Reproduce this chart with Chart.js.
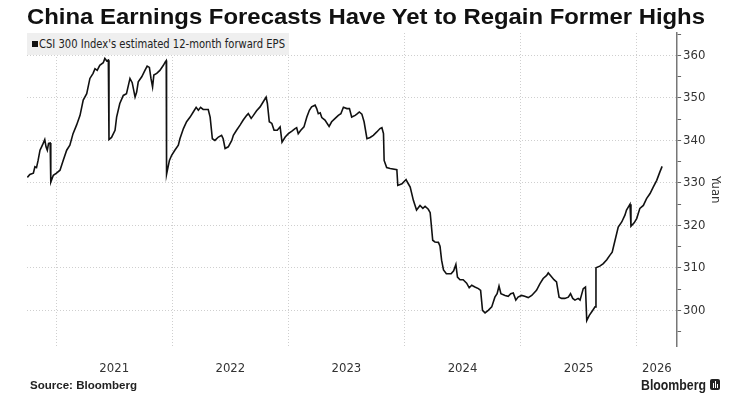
<!DOCTYPE html>
<html><head><meta charset="utf-8">
<script src="https://cdn.jsdelivr.net/npm/chart.js@4.4.1/dist/chart.umd.min.js"></script>
<style>
html,body{margin:0;padding:0;background:#fff;}
#wrap{position:relative;width:743px;height:409px;overflow:hidden;font-family:"Liberation Sans",Arial,sans-serif;}
#c{position:absolute;left:0;top:0;}
#title{position:absolute;left:27px;top:4px;font-weight:bold;font-size:22px;color:#111;white-space:nowrap;transform-origin:0 0;}
#legend{position:absolute;left:27px;top:33px;width:262px;height:22px;background:#efefef;}
#legsq{position:absolute;left:5px;top:8px;width:6px;height:6px;background:#111;}
#legtxt{position:absolute;left:12px;top:0;line-height:22px;font-size:12px;color:#222;white-space:nowrap;transform-origin:0 50%;}
#source{position:absolute;left:30px;top:379px;font-weight:bold;font-size:11px;color:#222;white-space:nowrap;transform-origin:0 0;}
#logo{position:absolute;left:641px;top:376px;font-weight:bold;font-size:15px;color:#222;white-space:nowrap;transform-origin:0 0;}
#icon{position:absolute;left:710px;top:379px;width:10px;height:11px;background:#222;border-radius:2px;}
#icon i{position:absolute;bottom:2px;width:1.5px;background:#fff;}
</style></head>
<body><div id="wrap">
<canvas id="c" width="743" height="409"></canvas>
<div id="title">China Earnings Forecasts Have Yet to Regain Former Highs</div>
<div id="legend"><div id="legsq"></div><div id="legtxt">CSI 300 Index's estimated 12-month forward EPS</div></div>
<div id="source">Source: Bloomberg</div>
<div id="logo">Bloomberg</div>
<div id="icon"><i style="left:2.5px;height:5px"></i><i style="left:4.5px;height:7px"></i><i style="left:6.5px;height:4px"></i></div>
</div>
<script>
// ---- data ----
const seriesLabel = "CSI 300 Index's estimated 12-month forward EPS";
const dates = [
'2020-10-02','2020-10-10','2020-10-21','2020-10-26','2020-10-31','2020-11-05','2020-11-11','2020-11-16','2020-11-21','2020-11-26','2020-11-30','2020-12-04','2020-12-08','2020-12-13','2020-12-15','2020-12-23',
'2021-01-02','2021-01-13','2021-01-23','2021-02-03','2021-02-13','2021-02-23','2021-03-06','2021-03-17','2021-03-27','2021-04-07','2021-04-17','2021-04-27','2021-05-03','2021-05-10','2021-05-18','2021-05-29','2021-06-03','2021-06-09','2021-06-14','2021-06-16','2021-06-24','2021-07-05','2021-07-10','2021-07-20','2021-07-31','2021-08-10','2021-08-21','2021-08-28','2021-09-06','2021-09-11','2021-09-16','2021-09-27','2021-10-07','2021-10-14','2021-10-21','2021-10-26','2021-10-31','2021-11-04','2021-11-13','2021-11-23','2021-12-04','2021-12-10','2021-12-13','2021-12-14','2021-12-23','2021-12-30',
'2022-01-09','2022-01-20','2022-01-25','2022-02-05','2022-02-15','2022-02-26','2022-03-08','2022-03-17','2022-03-24','2022-03-31','2022-04-08','2022-04-24','2022-04-30','2022-05-07','2022-05-15','2022-05-26','2022-06-05','2022-06-10','2022-06-16','2022-06-26','2022-07-07','2022-07-12','2022-07-22','2022-08-02','2022-08-12','2022-08-23','2022-08-28','2022-09-06','2022-09-13','2022-09-23','2022-10-04','2022-10-14','2022-10-23','2022-10-27','2022-11-02','2022-11-10','2022-11-17','2022-11-27','2022-12-06','2022-12-12','2022-12-22',
'2023-01-01','2023-01-12','2023-01-22','2023-01-27','2023-02-01','2023-02-09','2023-02-19','2023-02-28','2023-03-08','2023-03-15','2023-03-26','2023-03-31','2023-04-05','2023-04-11','2023-04-16','2023-04-26','2023-05-09','2023-05-17','2023-05-28','2023-06-07','2023-06-15','2023-06-23','2023-07-04','2023-07-12','2023-07-19','2023-07-30','2023-08-06','2023-08-12','2023-08-20','2023-08-27','2023-09-05','2023-09-15','2023-09-25','2023-10-06','2023-10-16','2023-10-22','2023-10-27','2023-10-29','2023-11-06','2023-11-17','2023-12-08','2023-12-11','2023-12-24',
'2024-01-06','2024-01-13','2024-01-19','2024-01-29','2024-02-08','2024-02-19','2024-02-28','2024-03-06','2024-03-16','2024-03-22','2024-03-30','2024-04-06','2024-04-17','2024-04-22','2024-04-27','2024-05-03','2024-05-12','2024-05-27','2024-06-04','2024-06-11','2024-06-16','2024-06-24','2024-07-04','2024-07-15','2024-07-23','2024-07-31','2024-08-10','2024-08-21','2024-08-28','2024-09-03','2024-09-11','2024-09-21','2024-10-02','2024-10-12','2024-10-19','2024-10-25','2024-10-31','2024-11-13','2024-11-23','2024-12-01','2024-12-09','2024-12-17','2024-12-24',
'2025-01-04','2025-01-14','2025-01-25','2025-02-05','2025-02-20','2025-03-03','2025-03-13','2025-03-24','2025-03-29','2025-04-05','2025-04-16','2025-04-24','2025-05-02','2025-05-10','2025-05-20','2025-05-31','2025-06-07','2025-06-14','2025-06-21','2025-07-01','2025-07-07','2025-07-17','2025-07-24','2025-07-28','2025-08-05','2025-08-15','2025-08-23','2025-08-26','2025-09-07','2025-09-18','2025-09-29','2025-10-09','2025-10-16','2025-10-25','2025-11-04','2025-11-15','2025-11-25','2025-11-30','2025-12-11','2025-12-14','2025-12-24',
'2026-01-01','2026-01-11','2026-01-22','2026-02-01','2026-02-12','2026-02-22','2026-03-05','2026-03-15','2026-03-22'
];
const eps = [
331.3,332.0,332.3,333.8,333.6,335.3,337.7,338.5,339.3,340.2,338.5,337.7,339.3,339.4,330.2,331.8,
332.3,333.0,335.3,337.7,338.9,341.6,343.6,345.9,349.5,351.0,354.6,355.8,356.9,356.5,357.7,358.3,359.3,358.7,358.9,340.2,340.7,342.4,345.5,348.7,350.6,351.0,354.6,353.6,350.2,351.4,353.8,355.0,356.5,357.5,357.2,354.6,352.6,355.4,355.8,356.5,357.7,358.5,358.8,332.0,335.3,336.5,
337.7,338.9,340.4,342.8,344.4,345.5,346.7,347.8,347.1,347.8,347.3,347.3,345.5,340.4,340.0,340.8,341.2,340.4,338.1,338.5,340.0,341.2,342.4,343.6,344.8,345.9,346.3,345.2,345.9,347.0,347.9,349.1,350.2,348.7,344.4,344.0,342.4,342.4,343.2,339.6,340.8,
341.6,342.2,342.8,343.0,341.6,342.4,343.2,345.5,347.1,347.9,348.3,347.5,346.3,346.5,345.4,344.8,343.3,344.4,345.2,345.9,346.3,347.8,347.5,347.5,345.5,345.9,346.3,346.7,346.2,344.4,340.4,340.7,341.2,342.0,342.8,343.0,341.6,335.3,333.6,333.4,333.1,329.4,329.8,
330.8,329.8,329.0,325.9,323.6,324.7,324.0,324.5,323.8,323.0,316.5,316.1,316.0,315.1,311.8,309.5,308.6,308.6,309.3,310.8,307.8,307.2,307.2,306.4,305.3,305.9,305.5,305.1,304.7,300.0,299.4,300.0,300.8,303.1,303.9,305.7,303.9,303.5,303.3,303.9,304.1,302.4,303.1,
303.5,303.3,303.0,303.5,304.7,306.3,307.5,308.2,308.8,308.2,307.2,306.7,303.1,302.8,302.8,303.1,303.9,302.8,302.4,302.8,302.4,305.1,305.5,297.6,298.8,299.9,300.8,310.0,310.4,311.0,311.9,313.0,313.7,316.5,319.6,320.8,322.4,323.6,325.0,319.8,320.6,
321.6,324.0,324.7,326.3,327.5,329.0,330.6,332.6,333.9
];
const yearLabels = ['2021','2022','2023','2024','2025','2026'];
const yTickValues = [295,300,305,310,315,320,325,330,335,340,345,350,355,360,365];
const yLabelValues = [300,310,320,330,340,350,360];
const xStartDate = '2020-10-01';
const xEndDate = '2026-05-08';
const yMin = 291.5, yMax = 365.3;
const yAxisTitle = 'Yuan';

// ---- helpers ----
function fracYear(s){
  const [y,m,d] = s.split('-').map(Number);
  const t = Date.UTC(y,m-1,d), a = Date.UTC(y,0,1), b = Date.UTC(y+1,0,1);
  return y + (t-a)/(b-a);
}
function pickFont(cands){
  const cv = document.createElement('canvas').getContext('2d');
  const s = 'abcdefghijklmnopqrstuvwxyz0123456789';
  cv.font = '40px monospace'; const base = cv.measureText(s).width;
  for (const f of cands){ cv.font = '40px "'+f+'", monospace'; if (Math.abs(cv.measureText(s).width-base) > 0.5) return f; }
  return 'Liberation Sans';
}
const narrow = pickFont(['Liberation Sans Narrow','DejaVu Sans Condensed','Roboto Condensed','Noto Sans','Liberation Sans']);

function fitWidth(el, target){
  const w = el.getBoundingClientRect().width;
  el.style.transform = 'scaleX(' + (target/w) + ')';
}
document.getElementById('legtxt').style.fontFamily = '"'+narrow+'", sans-serif';
fitWidth(document.getElementById('title'), 678);
fitWidth(document.getElementById('legtxt'), 246);
fitWidth(document.getElementById('source'), 107);
fitWidth(document.getElementById('logo'), 65);

const xMin = fracYear(xStartDate), xMax = fracYear(xEndDate);
const points = dates.map((d,i)=>({x: fracYear(d), y: eps[i]}));
const boundaries = yearLabels.map(Number);
const labelPos = yearLabels.map(y => { const a = Math.max(+y, xMin), b = Math.min(+y+1, xMax); return (a+b)/2; });

const tickFont = {family: narrow, size: 13};

new Chart(document.getElementById('c'), {
  type: 'line',
  data: { datasets: [{ label: seriesLabel, data: points, borderColor: '#111', borderWidth: 1.6, pointRadius: 0, tension: 0, fill: false }] },
  options: {
    responsive: false, animation: false,
    layout: { padding: { left: 27, top: 33, right: 16, bottom: 19 } },
    plugins: { legend: { display: false }, tooltip: { enabled: false } },
    scales: {
      x: {
        type: 'linear', min: xMin, max: xMax,
        afterBuildTicks: s => { s.ticks = boundaries.concat(labelPos).sort((a,b)=>a-b).map(v=>({value:v})); },
        ticks: { autoSkip: false, maxRotation: 0, minRotation: 0, padding: 14, color: '#333', font: tickFont,
          callback: v => { const i = labelPos.findIndex(p => Math.abs(p - v) < 1e-6); return i >= 0 ? yearLabels[i] : ''; } },
        grid: { drawTicks: false, color: c => (c.tick && boundaries.some(b => Math.abs(b - c.tick.value) < 1e-6)) ? '#cfcfcf' : 'rgba(0,0,0,0)', lineWidth: 1 },
        border: { display: false, dash: [1,2] }
      },
      y: {
        position: 'right', min: yMin, max: yMax,
        afterBuildTicks: s => { s.ticks = yTickValues.map(v=>({value:v})); },
        ticks: { autoSkip: false, padding: 2, color: '#333', font: tickFont,
          callback: v => yLabelValues.includes(v) ? String(v) : '' },
        grid: { color: c => (c.tick && yLabelValues.includes(c.tick.value)) ? '#cfcfcf' : 'rgba(0,0,0,0)', lineWidth: 1,
          drawTicks: true, tickLength: 4, tickColor: '#666', tickWidth: 1, tickBorderDash: [] },
        border: { display: true, color: '#777', width: 1.5, dash: [1,2] },
        title: { display: true, text: yAxisTitle, color: '#333', font: {family: narrow, size: 13}, padding: {top: 4, bottom: 0} }
      }
    }
  }
});
</script>
</body></html>
